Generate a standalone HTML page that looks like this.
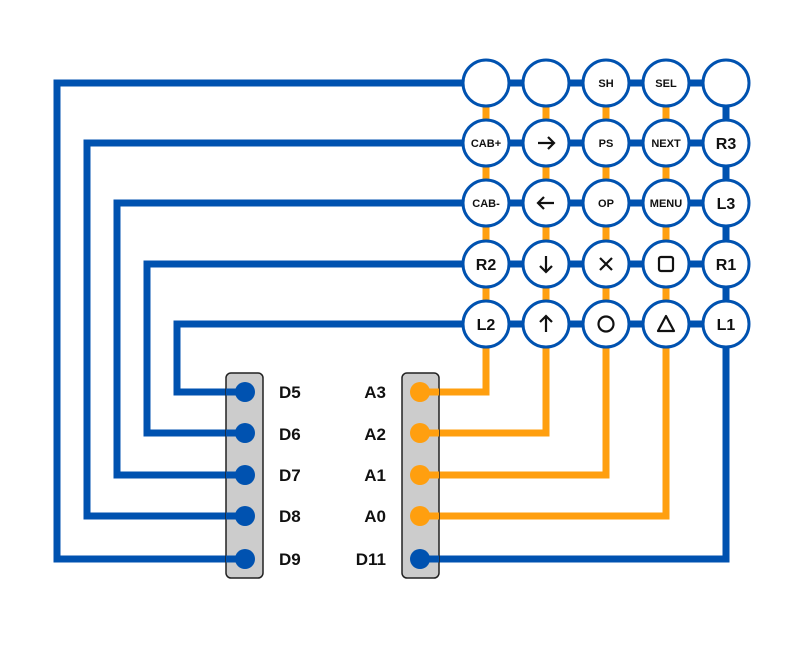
<!DOCTYPE html>
<html><head><meta charset="utf-8"><style>body{margin:0;background:#fff}</style></head><body>
<svg width="807" height="642" viewBox="0 0 807 642" xmlns="http://www.w3.org/2000/svg" font-family="Liberation Sans, sans-serif" font-weight="bold">
<g fill="none" stroke-width="7" stroke-linejoin="miter">
<!-- orange columns -->
<g stroke="#FF9F0F">
<path d="M486 83V392H420"/>
<path d="M546 83V433H420"/>
<path d="M606 83V475H420"/>
<path d="M666 83V516H420"/>
</g>
<g stroke="#0052B0">
<path d="M726 83V559H420"/>
<path d="M726 83H57V559H245"/>
<path d="M726 143H87V516H245"/>
<path d="M726 203H117V475H245"/>
<path d="M726 264H147V433H245"/>
<path d="M726 324H177V392H245"/>
</g>
</g>
<rect x="226" y="373" width="37" height="205" rx="5" fill="#CCCCCC" stroke="#222" stroke-width="1.5"/>
<rect x="402" y="373" width="37" height="205" rx="5" fill="#CCCCCC" stroke="#222" stroke-width="1.5"/>
<!-- redraw wire ends over boxes -->
<g stroke-width="7">
<g stroke="#0052B0"><path d="M226 392H245M226 433H245M226 475H245M226 516H245M226 559H245M439 559H420"/></g>
<g stroke="#FF9F0F"><path d="M439 392H420M439 433H420M439 475H420M439 516H420"/></g>
</g>
<g fill="#0052B0"><circle cx="245" cy="392" r="10"/><circle cx="245" cy="433" r="10"/><circle cx="245" cy="475" r="10"/><circle cx="245" cy="516" r="10"/><circle cx="245" cy="559" r="10"/><circle cx="420" cy="559" r="10"/></g>
<g fill="#FF9F0F"><circle cx="420" cy="392" r="10"/><circle cx="420" cy="433" r="10"/><circle cx="420" cy="475" r="10"/><circle cx="420" cy="516" r="10"/></g>
<g font-size="17" fill="#111">
<text x="279" y="398">D5</text><text x="279" y="440">D6</text><text x="279" y="481">D7</text><text x="279" y="522">D8</text><text x="279" y="565">D9</text>
<g text-anchor="end"><text x="386" y="398">A3</text><text x="386" y="440">A2</text><text x="386" y="481">A1</text><text x="386" y="522">A0</text><text x="386" y="565">D11</text></g>
</g>
<g fill="#fff" stroke="#0052B0" stroke-width="3">
<circle cx="486" cy="83" r="23"/><circle cx="546" cy="83" r="23"/><circle cx="606" cy="83" r="23"/><circle cx="666" cy="83" r="23"/><circle cx="726" cy="83" r="23"/>
<circle cx="486" cy="143" r="23"/><circle cx="546" cy="143" r="23"/><circle cx="606" cy="143" r="23"/><circle cx="666" cy="143" r="23"/><circle cx="726" cy="143" r="23"/>
<circle cx="486" cy="203" r="23"/><circle cx="546" cy="203" r="23"/><circle cx="606" cy="203" r="23"/><circle cx="666" cy="203" r="23"/><circle cx="726" cy="203" r="23"/>
<circle cx="486" cy="264" r="23"/><circle cx="546" cy="264" r="23"/><circle cx="606" cy="264" r="23"/><circle cx="666" cy="264" r="23"/><circle cx="726" cy="264" r="23"/>
<circle cx="486" cy="324" r="23"/><circle cx="546" cy="324" r="23"/><circle cx="606" cy="324" r="23"/><circle cx="666" cy="324" r="23"/><circle cx="726" cy="324" r="23"/>
</g>
<g text-anchor="middle" fill="#111">
<g font-size="11"><text x="606" y="87">SH</text><text x="666" y="87">SEL</text>
<text x="486" y="147">CAB+</text><text x="606" y="147">PS</text><text x="666" y="147">NEXT</text>
<text x="486" y="207">CAB-</text><text x="606" y="207">OP</text><text x="666" y="207">MENU</text></g>
<g font-size="16"><text x="726" y="149">R3</text><text x="726" y="209">L3</text><text x="486" y="270">R2</text><text x="726" y="270">R1</text><text x="486" y="330">L2</text><text x="726" y="330">L1</text></g>
</g>
<g fill="none" stroke="#111" stroke-width="2.2">
<path d="M538 143H554M548 137L554 143L548 149"/>
<path d="M554 203H538M544 197L538 203L544 209"/>
<path d="M546 256V272M540 266L546 272L552 266"/>
<path d="M546 332V316M540 322L546 316L552 322"/>
<path d="M600 258L612 270M612 258L600 270"/>
<rect x="659" y="257" width="14" height="14" rx="2"/>
<circle cx="606" cy="324" r="7.5"/>
<path d="M666 316L674 331H658Z" stroke-linejoin="round"/>
</g>
</svg>
</body></html>
